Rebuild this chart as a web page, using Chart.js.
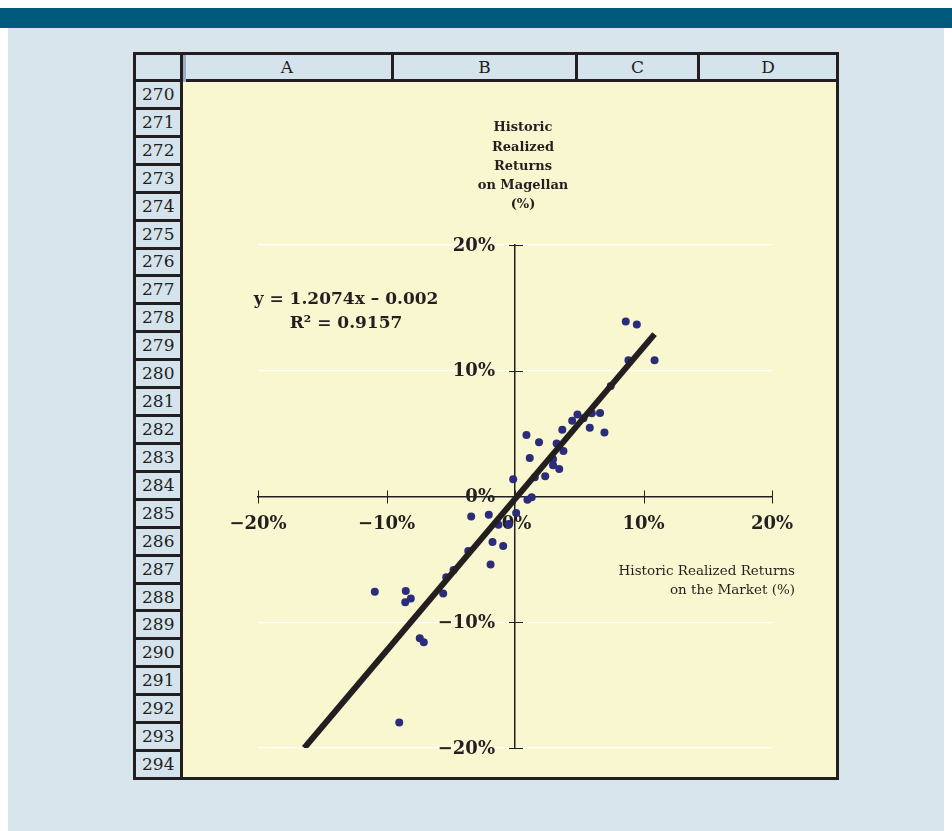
<!DOCTYPE html>
<html>
<head>
<meta charset="utf-8">
<script src="https://cdn.jsdelivr.net/npm/chart.js@4.4.0/dist/chart.umd.min.js"></script>
<style>
  html, body { margin: 0; padding: 0; background: #fff; }
  body { width: 952px; height: 831px; position: relative; overflow: hidden; font-family: 'DejaVu Serif', serif; }
  #topbar { position: absolute; left: 0; top: 8px; width: 952px; height: 20px; background: #005a7c; }
  #panel { position: absolute; left: 8px; top: 28px; width: 936px; height: 803px; background: #d8e5ed; }
  #sheet { position: absolute; left: 133px; top: 52px; width: 706px; height: 728px; background: #231f20; }
  .cell { position: absolute; background: #d5e4ec; color: #231f20; font-size: 17px; line-height: 1;
          display: flex; align-items: center; box-sizing: border-box; }
  .col { justify-content: center; }
  .row { padding-left: 6px; }
  #plotbg { position: absolute; left: 50px; top: 30px; width: 653px; height: 695px; background: #f9f7cf; }
  #corner-mark { position: absolute; left: 50px; top: 3px; width: 3px; height: 27px; background: #9aadc5; }
  #chart { position: absolute; left: 183px; top: 82px; }
</style>
</head>
<body>
<div id="topbar"></div>
<div id="panel"></div>
<div id="sheet"><div id="plotbg"></div></div>
<canvas id="chart" width="653" height="695"></canvas>
<script>
// market vs. fund returns, in percent
const marketReturns = [8.62, 9.48, 8.83, 10.86, 7.45, 6.62, 5.98, 4.86, 4.45, 3.68,
  5.82, 6.96, 0.89, 1.87, 3.24, 3.77, 1.15, 2.96, 2.96, 3.44,
  2.35, -0.14, 0.97, 1.30, 0.09, -3.41, -2.04, -0.48, -1.29, -1.75,
  -0.92, -3.64, -1.90, -4.78, -5.35, -5.59, -10.91, -8.50, -8.11, -8.54,
  -7.41, -7.10, -9.01, 5.33, 1.54];
const magellanReturns = [13.91, 13.67, 10.84, 10.84, 8.79, 6.65, 6.63, 6.52, 6.02, 5.30,
  5.46, 5.08, 4.90, 4.32, 4.21, 3.61, 3.07, 2.97, 2.49, 2.18,
  1.61, 1.38, -0.26, -0.05, -1.32, -1.59, -1.45, -2.18, -2.25, -3.61,
  -3.93, -4.34, -5.41, -5.85, -6.43, -7.71, -7.58, -7.52, -8.11, -8.40,
  -11.28, -11.60, -17.97, 6.23, 1.54];

// fitted line: y = 1.2074x - 0.002 (decimal returns)
const slope = 1.2074;
const intercept = -0.002;
const rSquared = 0.9157;
const trendRange = [-16.4, 10.86];

const axisTicks = [-20, -10, 0, 10, 20];
const columnLetters = ['A', 'B', 'C', 'D'];
const firstRow = 270, rowCount = 25;

// spreadsheet frame
const sheet = document.getElementById('sheet');
function addCell(cls, text, left, top, w, h) {
  const d = document.createElement('div');
  d.className = 'cell ' + cls;
  d.textContent = text;
  Object.assign(d.style, { left: left + 'px', top: top + 'px', width: w + 'px', height: h + 'px' });
  sheet.appendChild(d);
}
addCell('', '', 3, 3, 44, 24);
const colEdges = [50, 261, 445, 567, 703];
columnLetters.forEach((c, i) => addCell('col', c, colEdges[i], 3, colEdges[i + 1] - colEdges[i] - 3 + (i === 3 ? 3 : 0), 24));
const corner = document.createElement('div');
corner.id = 'corner-mark';
sheet.appendChild(corner);
const pitch = (725 - 30 + 3) / rowCount;
for (let i = 0; i < rowCount; i++) {
  const top = 30 + i * pitch;
  addCell('row', String(firstRow + i), 3, top, 44, pitch - 3);
}

const pct = v => (v < 0 ? '\u2212' + Math.abs(v) : String(v)) + '%';

const axisDecor = {
  id: 'axisDecor',
  beforeDatasetsDraw(chart) {
    const { ctx, scales: { x, y } } = chart;
    const x0 = x.getPixelForValue(0), y0 = y.getPixelForValue(0);
    ctx.save();
    ctx.strokeStyle = '#231f20';
    ctx.lineWidth = 1;
    ctx.beginPath();
    axisTicks.forEach(v => {
      const px = Math.round(x.getPixelForValue(v)) + 0.5;
      ctx.moveTo(px, y0 - 6); ctx.lineTo(px, y0 + 7);
      if (v !== 0) {
        const py = Math.round(y.getPixelForValue(v)) + 0.5;
        ctx.moveTo(x0 - 6, py); ctx.lineTo(x0 + 8, py);
      }
    });
    ctx.stroke();

    ctx.fillStyle = '#231f20';
    ctx.textBaseline = 'middle';
    ctx.font = 'bold 18px "DejaVu Serif"';
    ctx.textAlign = 'center';
    axisTicks.forEach(v => ctx.fillText(pct(v), x.getPixelForValue(v) + (v === 0 ? 1.5 : 0), y0 + 27.5));
    ctx.textAlign = 'right';
    axisTicks.forEach(v => ctx.fillText(pct(v), x0 - 20, y.getPixelForValue(v) + 1));

    // vertical axis title
    const top = y.getPixelForValue(20);
    ctx.font = 'bold 13px "DejaVu Serif"';
    ctx.textAlign = 'center';
    ['Historic', 'Realized', 'Returns', 'on Magellan', '(%)'].forEach((t, i) =>
      ctx.fillText(t, x0 + 8, top - 117 + i * 19.2));

    // regression equation
    const eqX = x.getPixelForValue(-20) + 88;
    ctx.font = 'bold 17px "DejaVu Serif"';
    ctx.fillText('y = ' + slope + 'x \u2013 ' + Math.abs(intercept), eqX, top + 55);
    ctx.fillText('R\u00b2 = ' + rSquared, eqX, top + 79);

    // horizontal axis title
    ctx.font = '13.5px "DejaVu Serif"';
    ctx.textAlign = 'right';
    const right = x.getPixelForValue(20) + 23;
    ctx.fillText('Historic Realized Returns', right, y0 + 74.5);
    ctx.fillText('on the Market (%)', right, y0 + 93.5);
    ctx.restore();
  }
};

const points = marketReturns.map((m, i) => ({ x: m, y: magellanReturns[i] }));
const trendPoints = trendRange.map(v => ({ x: v, y: slope * v + intercept * 100 }));

new Chart(document.getElementById('chart'), {
  type: 'scatter',
  data: {
    datasets: [
      { type: 'line', data: trendPoints, borderColor: '#231f20', borderWidth: 6, pointRadius: 0,
        borderCapStyle: 'butt', fill: false, tension: 0 },
      { data: points, backgroundColor: '#2b2c7b', borderWidth: 0, pointRadius: 4 }
    ]
  },
  options: {
    responsive: false,
    animation: false,
    events: [],
    layout: { padding: { left: 75, right: 64, top: 163, bottom: 29 } },
    plugins: { legend: { display: false }, tooltip: { enabled: false } },
    scales: {
      x: {
        type: 'linear', min: -20, max: 20, position: { y: 0 },
        ticks: { display: false, stepSize: 10 },
        grid: { display: false },
        border: { color: '#231f20', width: 1.5 }
      },
      y: {
        type: 'linear', min: -20, max: 20, position: { x: 0 },
        ticks: { display: false, stepSize: 10 },
        grid: { color: c => c.tick && c.tick.value === 0 ? 'rgba(0,0,0,0)' : '#ffffff', lineWidth: 1.2, drawTicks: false },
        border: { color: '#231f20', width: 1.5 }
      }
    }
  },
  plugins: [axisDecor]
});
</script>
</body>
</html>
